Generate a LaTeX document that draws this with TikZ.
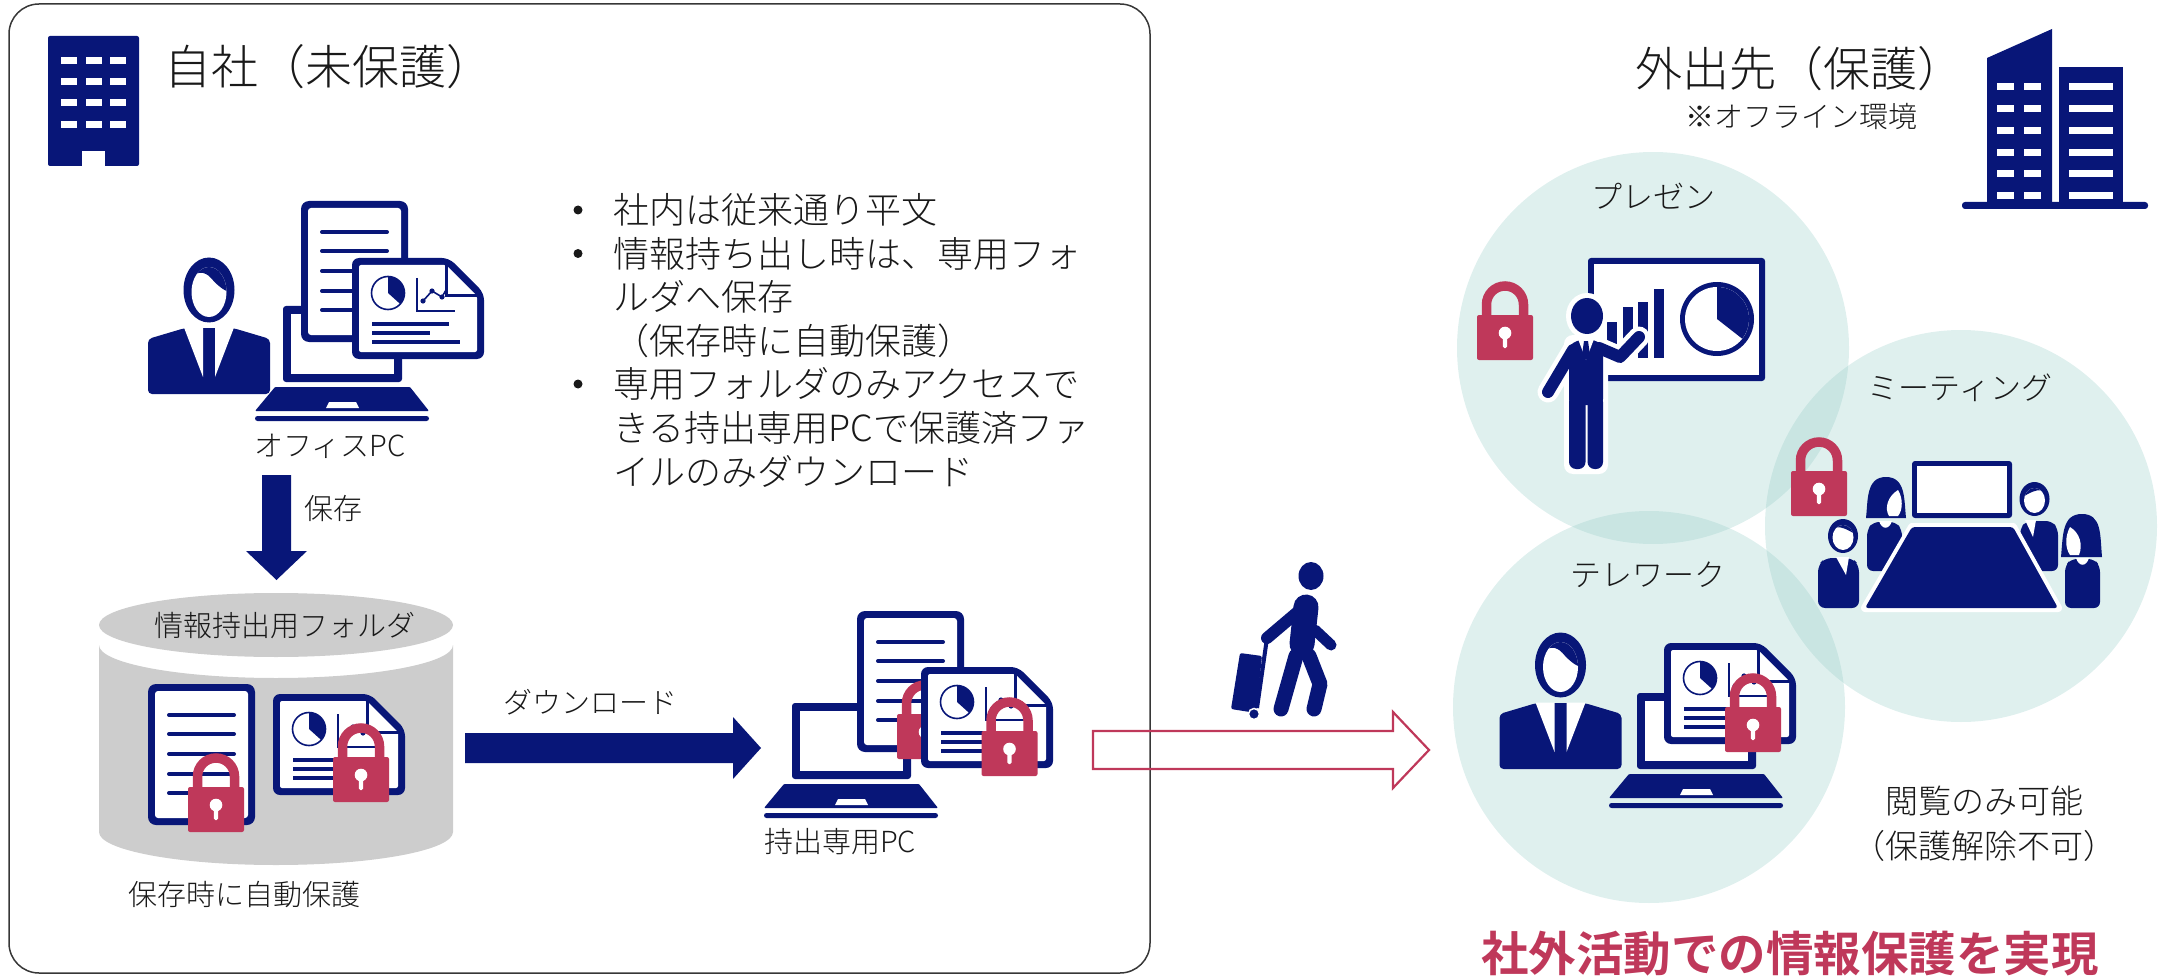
\documentclass[tikz,border=0pt]{standalone}
\usepackage{fontspec}
\IfFontExistsTF{Noto Sans CJK JP Light}
  {\setmainfont{Noto Sans CJK JP Light}[BoldFont={Noto Sans CJK JP Bold}]}
  {\setmainfont{Noto Sans CJK JP}}
\definecolor{navy}{RGB}{8,22,120}
\definecolor{lockred}{RGB}{191,56,90}
\definecolor{ink}{RGB}{25,25,25}
\definecolor{cylgray}{RGB}{205,205,205}
\definecolor{bubble}{RGB}{149,205,199}
\definecolor{panelline}{RGB}{55,55,55}
\tikzset{
  lbl/.style={inner sep=0pt, text=ink, font=\fontsize{29}{34}\selectfont},
  bigtitle/.style={inner sep=0pt, anchor=west, text=ink, font=\fontsize{47}{56}\selectfont},
  bullettext/.style={inner sep=0pt, anchor=west, text=ink, font=\fontsize{36}{42}\selectfont},
  bubblefill/.style={fill=bubble, fill opacity=0.3},
  % padlock, origin at the top centre of its body
  padlock/.pic={
    \draw[lockred, line width=9.5] (-18.5,2) -- (-18.5,-10.5)
      arc[start angle=180, end angle=360, radius=18.5] -- (18.5,2);
    \fill[lockred, rounded corners=2] (-28,0) rectangle (28,45);
    \fill[white] (0,18) circle[radius=6.3];
    \fill[white, rounded corners=1.5] (-2.2,18) rectangle (2.2,33);
  },
  % text document, origin at top-left
  textdoc/.pic={
    \fill[navy, rounded corners=8] (0,0) rectangle (107,141);
    \fill[white, rounded corners=3] (7,7) rectangle (100,134);
    \foreach \yy in {31,50,70,90,109}
      \draw[navy, line width=4, line cap=round] (21,\yy) -- (86,\yy);
  },
  % chart document with folded corner, origin at top-left
  chartdoc/.pic={
    \fill[navy, rounded corners=7] (0,0) -- (97,0) -- (132,35) -- (132,101) -- (0,101) -- cycle;
    \fill[white, rounded corners=2] (7,7) -- (94,7) -- (125,38) -- (125,94) -- (7,94) -- cycle;
    \draw[navy, line width=3] (94,6) -- (94,38) -- (126,38);
    \draw[navy, line width=1.6] (36,35) circle[radius=16.5];
    \fill[navy] (36,35) -- ++(-90:16.5) arc[start angle=-90, end angle=42, radius=16.5] -- cycle;
    \draw[navy, line width=1.6] (65,20) -- (65,53) -- (103,53);
    \draw[navy, line width=1.6] (71,43) -- (80,33) -- (90,39) -- (94,32);
    \foreach \p in {(71,43),(80,33),(90,39)} \fill[navy] \p circle[radius=2.6];
    \draw[navy, line width=4] (20,66) -- (97,66);
    \draw[navy, line width=4] (20,75) -- (78,75);
    \draw[navy, line width=4] (20,84) -- (108,84);
  },
  % laptop, origin at top-left of the screen
  laptop/.pic={
    \fill[navy, rounded corners=3] (0,0) rectangle (119,76);
    \fill[white] (8,8) rectangle (111,68);
    \fill[navy, rounded corners=1] (-8,81) -- (127,81) -- (146,105) -- (-28,105) -- cycle;
    \fill[white] (46,96) -- (73,96) -- (76,102) -- (43,102) -- cycle;
    \fill[navy, rounded corners=2.5] (-28,110) rectangle (146,115);
  },
  % business person bust, origin at top centre of the body
  officeman/.pic={
    \fill[navy, rounded corners=4] (-61,66) -- (-61,11) -- (-24,0) -- (24,0) -- (61,11) -- (61,66) -- cycle;
    \fill[white] (-25,-0.5) -- (-6,-0.5) -- (-6,49) -- cycle;
    \fill[white] (25,-0.5) -- (6,-0.5) -- (6,49) -- cycle;
    \fill[navy] (0,-38) ellipse[x radius=25.5, y radius=32.5];
    \begin{scope}
      \clip (0,-36) ellipse[x radius=17.5, y radius=25];
      \fill[white] (-20,-64) rectangle (20,-8);
      \fill[navy] (-20,-64) -- (-20,-47) .. controls (-14,-58) and (-4,-57) .. (2,-50)
        .. controls (8,-43) and (14,-38) .. (20,-36) -- (20,-64) -- cycle;
    \end{scope}
  },
  % small head with hair, origin at head centre
  smallhead/.pic={
    \fill[navy] (0,0) ellipse[x radius=15, y radius=17];
    \begin{scope}
      \clip (0,1.5) ellipse[x radius=10.5, y radius=12.5];
      \fill[white] (-16,-18) rectangle (16,18);
      \fill[navy] (-16,-18) -- (-16,-3) .. controls (-8,-13) and (2,-9) .. (16,1) -- (16,-18) -- cycle;
    \end{scope}
  },
}
\begin{document}
\begin{tikzpicture}[x=1pt,y=-1pt]
\useasboundingbox (0,0) rectangle (2160,976);

% ---------- in-house panel ----------
\draw[panelline, line width=1.5, rounded corners=30] (9,4) rectangle (1150,973);

% building
\fill[navy, rounded corners=2] (48,36) rectangle (139,166);
\foreach \xx in {61,86,110}
  \foreach \yy in {57,78,99,121}
    \fill[white] (\xx,\yy) rectangle ++(16,7.5);
\fill[white] (82,151) rectangle (105,167);
\node[bigtitle] (hq) at (164,67) {自社（未保護）};

% office PC group
\pic at (209,328) {officeman};
\pic at (283,306) {laptop};
\pic at (301,201) {textdoc};
\pic at (352,258) {chartdoc};
\node[lbl] (officepc) at (330,446) {オフィスPC};

% save arrow
\fill[navy] (262,475) -- (291,475) -- (291,551) -- (307,551) -- (276.5,580) -- (246,551) -- (262,551) -- cycle;
\node[lbl, anchor=west] (savelbl) at (304,508) {保存};

% folder cylinder
\fill[cylgray] (99,645) -- (99,832) arc[start angle=180, end angle=0, x radius=177, y radius=33]
  -- (453,645) arc[start angle=0, end angle=180, x radius=177, y radius=33] -- cycle;
\fill[cylgray] (276,625) ellipse[x radius=177, y radius=32];
\node[lbl] (folder) at (285,626) {情報持出用フォルダ};
\pic at (148,684) {textdoc};
\pic at (216,787) {padlock};
\pic at (273,694) {chartdoc};
\pic at (361,757) {padlock};
\node[lbl] (autoprot) at (244,894) {保存時に自動保護};

% bullet list
\foreach \yy in {210,253.5,384} \fill[ink] (578,\yy) circle[radius=4.5];
\node[bullettext] (b1) at (613,210) {社内は従来通り平文};
\node[bullettext] (b2) at (613,253.5) {情報持ち出し時は、専用フォ};
\node[bullettext] (b3) at (613,297) {ルダへ保存};
\node[bullettext] (b4) at (613,340.5) {（保存時に自動保護）};
\node[bullettext] (b5) at (613,384) {専用フォルダのみアクセスで};
\node[bullettext] (b6) at (613,427.5) {きる持出専用PCで保護済ファ};
\node[bullettext] (b7) at (613,471) {イルのみダウンロード};

% download arrow
\fill[navy] (465,733) -- (733,733) -- (733,717) -- (761,748) -- (733,779) -- (733,763) -- (465,763) -- cycle;
\node[lbl] (dl) at (590,702) {ダウンロード};

% take-out PC
\pic at (792,703) {laptop};
\pic at (857,611) {textdoc};
\pic at (925,714) {padlock};
\pic at (921,667) {chartdoc};
\pic at (1009.5,731) {padlock};
\node[lbl] (mobilepc) at (840,842) {持出専用PC};

% ---------- travel ----------
\draw[lockred, line width=2.2] (1093,731) -- (1393,731) -- (1393,712) -- (1429,750) -- (1393,788) -- (1393,769) -- (1093,769) -- cycle;
\fill[navy] (1311,576) ellipse[x radius=12.5, y radius=14];
\draw[navy, line width=25, line cap=round] (1306,607) -- (1302,644);
\draw[navy, line width=12, line cap=round] (1300,610) -- (1267,638);
\draw[navy, line width=11, line cap=round] (1315,630) -- (1331,645);
\draw[navy, line width=15, line cap=round] (1296,656) -- (1281,709);
\draw[navy, line width=15, line cap=round, line join=round] (1309,656) -- (1320,684) -- (1314,709);
\draw[navy, line width=4] (1267,638) -- (1257,708);
\fill[navy, rounded corners=2] (1240,653) -- (1262,656) -- (1256,713) -- (1231,709) -- cycle;
\filldraw[navy, draw=white, line width=1.5] (1254,714) circle[radius=5.5];

% ---------- destination ----------
\node[bigtitle] (site) at (1635,69) {外出先（保護）};
\node[lbl, anchor=west] (offline) at (1685,116) {※オフライン環境};
\fill[navy] (1987,202) -- (1987,58) -- (2052,29) -- (2052,202) -- cycle;
\fill[navy] (2059,67) rectangle (2123,202);
\fill[navy, rounded corners=3] (1962,202) rectangle (2148,209);
\foreach \yy in {83,105,127,149,170,192} {
  \fill[white] (1997,\yy) rectangle ++(17,7.5);
  \fill[white] (2024,\yy) rectangle ++(17,7.5);
  \fill[white] (2069,\yy) rectangle ++(44,7.5);
}

% activity circles
\fill[bubblefill] (1653,348) circle[radius=196];
\fill[bubblefill] (1961,526) circle[radius=196];
\fill[bubblefill] (1649,707) circle[radius=196];

% presentation
\node[lbl, font=\fontsize{31}{36}\selectfont] (pres) at (1653,196) {プレゼン};
\pic at (1505,315) {padlock};
\fill[navy, rounded corners=3] (1588,258) rectangle (1765,381);
\fill[white] (1594,264) rectangle (1759,375);
\fill[navy] (1607,322) rectangle (1617,358);
\fill[navy] (1623,307) rectangle (1633,358);
\fill[navy] (1638,302) rectangle (1648,358);
\fill[navy] (1654,289) rectangle (1664,358);
\fill[navy] (1717,319) circle[radius=37];
\fill[white] (1717,319) circle[radius=32];
\fill[navy] (1717,319) -- ++(-90:32) arc[start angle=-90, end angle=38, radius=32] -- cycle;
\begin{scope}[white]
  \draw[line width=21, line cap=round] (1573,350) -- (1548,392);
  \draw[line width=21, line cap=round, line join=round] (1599,348) -- (1620,357) -- (1639,337);
  \fill (1587,316) ellipse[x radius=21, y radius=23];
  \fill[rounded corners=9] (1564,335) rectangle (1608,474);
\end{scope}
\draw[navy, line width=12, line cap=round] (1573,350) -- (1548,392);
\draw[navy, line width=12, line cap=round, line join=round] (1599,348) -- (1620,357) -- (1639,337);
\fill[navy] (1587,316) ellipse[x radius=16, y radius=18];
\fill[navy, rounded corners=6] (1569,405) -- (1569,347) -- (1576,340) -- (1597,340) -- (1603,347) -- (1603,405) -- cycle;
\fill[navy, rounded corners=7] (1569,395) rectangle (1585.5,469);
\fill[navy, rounded corners=7] (1587.5,395) rectangle (1603,469);
\fill[white] (1578,339) -- (1594,339) -- (1586,360) -- cycle;
\fill[navy] (1584,341) -- (1588,341) -- (1590,355) -- (1586,360) -- (1582,355) -- cycle;

% meeting
\node[lbl, font=\fontsize{31}{36}\selectfont] (meet) at (1960,388) {ミーティング};
\pic at (1819,471) {padlock};
\fill[navy, rounded corners=3] (1912,461) rectangle (2012,518);
\fill[white] (1917,466) rectangle (2007,513);
% back row
\fill[navy, rounded corners=6] (1867,571) -- (1867,530) -- (1873,522) -- (1896,522) -- (1902,530) -- (1902,571) -- cycle;
\fill[white] (1879,521) .. controls (1882,530) and (1889,530) .. (1892,521) -- cycle;
\fill[navy] (1866,518) .. controls (1868,500) and (1866,477) .. (1886,477)
  .. controls (1906,477) and (1904,500) .. (1906,518) -- cycle;
\fill[white] (1889,516) .. controls (1884,508) and (1888,496) .. (1898,490)
  .. controls (1903,498) and (1903,510) .. (1898,516) -- cycle;
\fill[navy, rounded corners=6] (2020,571) -- (2020,529) -- (2026,521) -- (2052,521) -- (2058,529) -- (2058,571) -- cycle;
\fill[white] (2025,520) -- (2036,520) -- (2033,537) -- cycle;
\pic[xscale=-1] at (2034.5,499) {smallhead};
% table
\draw[white, line width=8, line join=round] (1912,527) -- (2013,527) -- (2058,608) -- (1865,608) -- cycle;
\fill[navy, rounded corners=3] (1912,527) -- (2013,527) -- (2058,608) -- (1865,608) -- cycle;
% front row
\fill[navy, rounded corners=7] (1818,608) -- (1818,565) -- (1825,558) -- (1852,558) -- (1859,565) -- (1859,608) -- cycle;
\fill[white] (1836,557) -- (1849,557) -- (1846,575) -- cycle;
\pic at (1843,536) {smallhead};
\fill[navy, rounded corners=6] (2065,608) -- (2065,566) -- (2071,559) -- (2094,559) -- (2100,566) -- (2100,608) -- cycle;
\fill[white] (2076,558) .. controls (2079,567) and (2086,567) .. (2089,558) -- cycle;
\fill[navy] (2061,557) .. controls (2063,535) and (2062,514) .. (2082,514)
  .. controls (2102,514) and (2100,535) .. (2102,557) -- cycle;
\fill[white] (2079,555) .. controls (2083,545) and (2080,533) .. (2070,527)
  .. controls (2065,536) and (2065,548) .. (2070,555) -- cycle;

% telework
\node[lbl, font=\fontsize{31}{36}\selectfont] (tele) at (1648,575) {テレワーク};
\pic at (1560.5,703) {officeman};
\pic at (1637,693) {laptop};
\pic at (1664,643) {chartdoc};
\pic at (1753,707) {padlock};

% notes
\node[lbl, font=\fontsize{33}{38}\selectfont] (viewonly) at (1984,801) {閲覧のみ可能};
\node[lbl, font=\fontsize{33}{38}\selectfont] (nounlock) at (1984,846) {（保護解除不可）};
\node[inner sep=0pt, text=lockred, font=\fontsize{47.5}{56}\selectfont\bfseries] (result) at (1790,954) {社外活動での情報保護を実現};
\end{tikzpicture}
\end{document}
